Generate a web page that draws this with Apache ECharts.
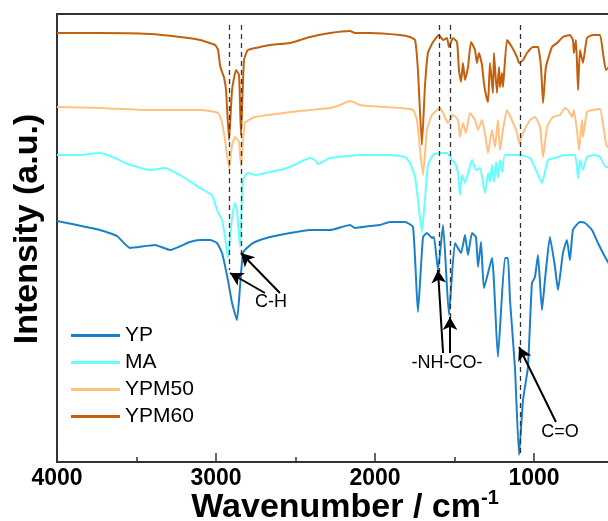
<!DOCTYPE html>
<html lang="en">
<head>
<meta charset="UTF-8">
<title>FTIR spectra</title>
<script src="https://cdn.jsdelivr.net/npm/echarts@6/dist/echarts.min.js"></script>
</head>
<body style="margin:0;overflow:hidden">
<!-- the plot runs past the right edge of the window, as in the original figure -->
<div id="main" style="width:693px;height:521px;"></div>
<script>
// spectra: wavenumber (cm-1) and intensity (a.u., offset per sample)
var names = ['YP', 'MA', 'YPM50', 'YPM60'];

var ypWave = [4000,3730,3623,3541,3384,3289,3164,3101,3038,2994,2962,2925,2899,2868,2849,2830,2799,2755,2660,2535,2409,2283,2157,2126,2031,1969,1906,1811,1761,1730,1698,1673,1642,1629,1604,1572,1535,1497,1459,1434,1415,1390,1365,1352,1333,1315,1264,1227,1183,1164,1151,1120,1094,1069,1038,1013,994,975,950,931,900,868,849,818,793,774,755,711,679,635,598,535,450];
var ypInt = [241,232,226,214,217,212,220,222,222,219,209,182,159,142,175,209,215,220,225,229,232,232,237,234,236,237,240,240,235,150,225,229,224,225,192,237,147,219,209,227,207,229,225,195,220,174,204,105,204,204,162,95,7,62,95,179,185,207,152,182,225,195,172,209,222,202,232,240,239,232,219,200,182];

var maWave = [4000,3855,3730,3635,3572,3415,3321,3195,3101,3025,2994,2962,2943,2925,2899,2881,2868,2849,2830,2799,2755,2692,2598,2535,2472,2409,2377,2359,2283,2094,1906,1811,1780,1748,1730,1705,1686,1667,1635,1591,1547,1516,1497,1478,1466,1453,1434,1415,1390,1365,1340,1308,1289,1277,1264,1252,1239,1227,1214,1201,1183,1088,1025,988,950,912,868,805,742,723,711,692,667,617,585,547,450];
var maInt = [307,307,309,304,299,292,294,284,274,267,252,242,225,204,245,259,252,215,282,289,287,289,292,295,300,304,302,298,304,307,307,305,299,285,262,230,262,297,307,309,309,302,299,289,267,287,279,289,302,292,294,269,289,280,297,280,300,284,302,290,307,307,304,292,279,302,304,307,307,284,302,292,305,307,305,295,300];

var m50Wave = [4000,3730,3415,3101,2987,2962,2943,2918,2899,2881,2855,2843,2818,2755,2535,2409,2283,2220,2157,2094,2031,1843,1761,1736,1698,1673,1642,1591,1572,1541,1510,1478,1466,1447,1428,1403,1371,1352,1327,1302,1289,1264,1245,1227,1214,1195,1170,1139,1107,1094,1069,1025,994,962,943,918,881,837,805,786,761,749,730,717,698,692,667,629,585,560,541,450];
var m50Int = [355,354,352,352,349,339,322,294,317,325,320,296,339,345,350,352,354,357,361,357,356,354,352,342,287,332,347,354,349,339,347,342,325,339,329,349,342,332,342,322,309,332,315,342,312,332,352,342,329,319,329,342,345,335,305,335,345,347,354,352,345,352,332,312,342,325,350,352,353,332,315,340];

var m60Wave = [4000,3730,3415,3226,3101,3006,2987,2975,2962,2950,2937,2918,2899,2874,2855,2843,2824,2799,2723,2660,2535,2409,2283,2157,2126,2031,1843,1780,1748,1730,1705,1686,1667,1635,1598,1572,1547,1535,1510,1484,1472,1459,1447,1434,1415,1396,1371,1359,1346,1327,1315,1302,1289,1277,1258,1252,1233,1220,1214,1201,1195,1170,1139,1107,1094,1069,1044,1006,975,956,943,925,887,855,818,774,755,749,736,723,711,692,667,629,585,566,547,450];
var m60Int = [429,429,428,425,422,417,412,397,390,385,372,322,372,392,387,327,402,412,415,417,419,425,429,431,429,429,427,425,422,392,317,375,409,420,427,422,424,415,424,420,392,380,399,382,395,420,412,399,409,397,379,367,360,399,369,409,369,395,375,389,375,422,415,405,399,402,409,415,415,395,359,395,415,419,425,427,422,409,422,372,412,399,424,427,427,409,392,420];

// marked bands: dashed guide lines (wavenumber, lower end)
var bandWave = [2918, 2843, 1598, 1528, 1088];
var bandEnd = [192, 207, 190, 144, 7];
var bandTop = 437;

// arrows [fromWave, fromInt, toWave, toInt] and their labels
var arrows = [[2692,169,2912,189],[2598,169,2843,209],[1572,109,1604,192],[1528,109,1528,145],[862,40,1094,115]];
var notes = [[2654,160,'C-H'],[1547,99,'-NH-CO-'],[837,30,'C=O']];

var font = 'Liberation Sans, Arial, sans-serif';
var colors = ['#1a80c8', '#66ffff', '#ffc180', '#c4600c'];

function pairs(w, v) {
  return w.map(function (x, i) { return [x, v[i]]; });
}
var sets = [pairs(ypWave, ypInt), pairs(maWave, maInt), pairs(m50Wave, m50Int), pairs(m60Wave, m60Int)];

var series = names.map(function (n, i) {
  return {
    name: n, type: 'line', data: sets[i], showSymbol: false, smooth: 0.15,
    lineStyle: { color: colors[i], width: 2 }, itemStyle: { color: colors[i] }
  };
});

var marks = [];
bandWave.forEach(function (w, i) {
  marks.push([{ coord: [w, bandTop], symbol: 'none' }, { coord: [w, bandEnd[i]], symbol: 'none' }]);
});
var arrowMarks = arrows.map(function (a) {
  return [{ coord: [a[0], a[1]], symbol: 'none' }, { coord: [a[2], a[3]], symbol: 'arrow' }];
});
var noteMarks = notes.map(function (n) {
  return { coord: [n[0], n[1]], value: n[2] };
});

series.push({
  type: 'line', data: [], silent: true, z: 5,
  markLine: {
    silent: true, animation: false, symbolSize: 0, label: { show: false },
    lineStyle: { color: '#333', width: 1.3, type: [5, 4] },
    data: marks
  }
});
series.push({
  type: 'line', data: [], silent: true, z: 6,
  markLine: {
    silent: true, animation: false, symbol: ['none', 'arrow'], symbolSize: [11, 13], label: { show: false },
    lineStyle: { color: '#000', width: 2, type: 'solid' },
    data: arrowMarks
  },
  markPoint: {
    silent: true, animation: false, symbol: 'circle', symbolSize: 1,
    itemStyle: { color: 'rgba(0,0,0,0)' },
    label: {
      show: true, position: 'inside', color: '#000', opacity: 1, fontSize: 18, fontFamily: font,
      textBorderWidth: 0, formatter: '{c}'
    },
    data: noteMarks
  }
});

var myChart = echarts.init(document.getElementById('main'));
var option = {
  animation: false,
  grid: {
    left: 57, right: 0, top: 14, bottom: 59, outerBoundsMode: 'none', containLabel: false,
    show: true, borderColor: '#333', borderWidth: 2
  },
  legend: {
    data: names, orient: 'vertical', left: 71, top: 325, icon: 'rect',
    itemWidth: 49, itemHeight: 3, itemGap: 6, padding: 0,
    textStyle: { fontSize: 21, color: '#000', fontFamily: font }
  },
  xAxis: {
    type: 'value', inverse: true, min: 0, max: 4000, interval: 1000,
    name: '{a|Wavenumber / cm}{b|-1}', nameLocation: 'middle', nameGap: 26, nameMoveOverlap: false,
    nameTextStyle: {
      padding: [0, 60, 0, 0],
      rich: {
        a: { fontSize: 34, fontWeight: 'bold', fontFamily: font, color: '#000', lineHeight: 40 },
        b: { fontSize: 20, fontWeight: 'bold', fontFamily: font, color: '#000', verticalAlign: 'top', lineHeight: 40 }
      }
    },
    axisLine: { lineStyle: { color: '#333', width: 2 } },
    axisTick: { inside: true, length: 9, lineStyle: { color: '#333', width: 1.5 } },
    minorTick: { show: true, splitNumber: 2, length: 5, lineStyle: { color: '#333', width: 1.5 } },
    axisLabel: {
      fontSize: 23, fontWeight: 'bold', color: '#000', fontFamily: font, margin: 5,
      formatter: function (v) { return String(v); }
    },
    splitLine: { show: false }
  },
  yAxis: {
    type: 'value', min: 0, max: 448,
    name: 'Intensity (a.u.)', nameLocation: 'middle', nameGap: 12,
    nameTextStyle: { fontSize: 34, fontWeight: 'bold', color: '#000', fontFamily: font, padding: [0, 0, 0, 18] },
    axisLine: { show: true, lineStyle: { color: '#333', width: 2 } },
    axisTick: { show: false }, axisLabel: { show: false }, splitLine: { show: false }
  },
  series: series
};
myChart.setOption(option);
</script>
</body>
</html>
